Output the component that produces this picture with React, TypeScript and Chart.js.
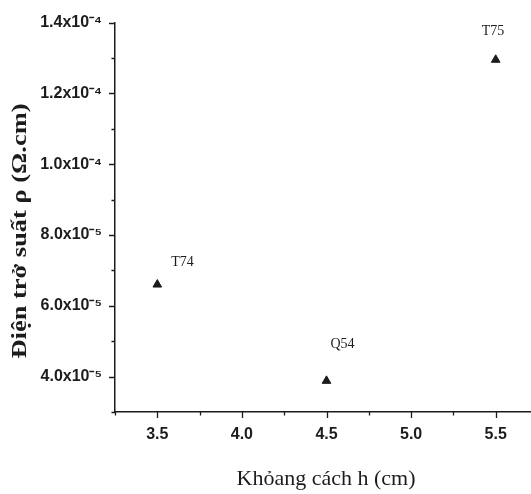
import React, { useEffect, useRef } from 'react';
import { Chart, registerables } from 'chart.js';

Chart.register(...registerables);

// ---- data ----
const samples = ['T74', 'Q54', 'T75'];
const distanceH = [3.5, 4.5, 5.5];
const resistivity = [6.6e-5, 3.88e-5, 1.295e-4];

const xTickValues = [3.5, 4.0, 4.5, 5.0, 5.5];
const xTickLabels = ['3.5', '4.0', '4.5', '5.0', '5.5'];
const yTickValues = [4e-5, 6e-5, 8e-5, 1.0e-4, 1.2e-4, 1.4e-4];
const yTickLabels = ['4.0x10⁻⁵', '6.0x10⁻⁵', '8.0x10⁻⁵', '1.0x10⁻⁴', '1.2x10⁻⁴', '1.4x10⁻⁴'];

const xTitle = 'Khỏang cách h (cm)';
const yTitle = 'Điện trở suất ρ (Ω.cm)';

const INK = '#1c1c1c';
const SERIF = '"Liberation Serif", "Times New Roman", serif';
const SANS = '"Liberation Sans", Arial, sans-serif';

function findLabel(v: number, vals: number[], labels: string[], eps: number) {
  for (let i = 0; i < vals.length; i++) {
    if (Math.abs(v - vals[i]) < eps) return labels[i];
  }
  return '';
}

const tickMarksPlugin = {
  id: 'tickMarks',
  afterDraw(chart: any) {
    const ctx = chart.ctx as CanvasRenderingContext2D;
    const xs = chart.scales.x;
    const ys = chart.scales.y;
    ctx.save();
    ctx.strokeStyle = INK;
    ctx.lineWidth = 1.3;
    ctx.beginPath();
    xs.ticks.forEach((t: any) => {
      const major = findLabel(t.value, xTickValues, xTickLabels, 1e-6) !== '';
      const px = Math.round(xs.getPixelForValue(t.value)) + 0.5;
      const len = major ? 6 : 3.5;
      ctx.moveTo(px, xs.top);
      ctx.lineTo(px, xs.top + len);
    });
    ys.ticks.forEach((t: any) => {
      const major = findLabel(t.value, yTickValues, yTickLabels, 1e-9) !== '';
      const py = Math.round(ys.getPixelForValue(t.value)) + 0.5;
      const len = major ? 6 : 3.5;
      ctx.moveTo(ys.right, py);
      ctx.lineTo(ys.right - len, py);
    });
    ctx.stroke();

    // axis titles
    ctx.fillStyle = INK;
    ctx.font = `22px ${SERIF}`;
    ctx.textAlign = 'center';
    ctx.textBaseline = 'alphabetic';
    ctx.fillText(xTitle, 326, 485);

    ctx.save();
    ctx.translate(21, 231);
    ctx.rotate(-Math.PI / 2);
    ctx.font = `bold 21px ${SERIF}`;
    ctx.textBaseline = 'middle';
    const w = ctx.measureText(yTitle).width;
    ctx.scale(255 / w, 1);
    ctx.fillText(yTitle, 0, 0);
    ctx.restore();

    // point labels
    const meta = chart.getDatasetMeta(0);
    const offsets = [
      [14, -22],
      [4, -37],
      [-14, -28],
    ];
    ctx.font = `14px ${SERIF}`;
    ctx.textAlign = 'left';
    ctx.textBaseline = 'middle';
    meta.data.forEach((el: any, i: number) => {
      ctx.fillText(samples[i], el.x + offsets[i][0], el.y + offsets[i][1]);
    });
    ctx.restore();
  },
};

export default function App() {
  const ref = useRef<HTMLCanvasElement>(null);

  useEffect(() => {
    document.body.style.margin = '0';
    document.body.style.background = '#ffffff';
    const canvas = ref.current!;
    const chart = new Chart(canvas, {
      type: 'scatter',
      data: {
        datasets: [
          {
            label: 'rho',
            data: distanceH.map((x, i) => ({ x, y: resistivity[i] })),
            pointStyle: 'triangle',
            pointRadius: 5,
            pointHoverRadius: 5,
            backgroundColor: INK,
            borderColor: INK,
            borderWidth: 1,
          },
        ],
      },
      options: {
        animation: false,
        responsive: true,
        maintainAspectRatio: false,
        devicePixelRatio: 1,
        layout: { padding: { top: 21, right: 0, left: 0, bottom: 0 } },
        plugins: {
          legend: { display: false },
          tooltip: { enabled: false },
        },
        scales: {
          x: {
            type: 'linear',
            min: 3.25,
            max: 5.75,
            grid: { display: false, drawTicks: false },
            border: { display: true, color: INK, width: 1.5 },
            ticks: {
              stepSize: 0.25,
              autoSkip: false,
              maxRotation: 0,
              padding: 13,
              color: INK,
              font: { family: SANS, size: 16, weight: 'bold' },
              callback: (v: any) => findLabel(Number(v), xTickValues, xTickLabels, 1e-6),
            },
            afterFit: (s: any) => {
              s.height = 82;
            },
          },
          y: {
            type: 'linear',
            min: 3e-5,
            max: 1.4e-4,
            grid: { display: false, drawTicks: false },
            border: { display: true, color: INK, width: 1.5 },
            ticks: {
              stepSize: 1e-5,
              autoSkip: false,
              padding: 13,
              color: INK,
              font: { family: SANS, size: 16, weight: 'bold' },
              callback: (v: any) => findLabel(Number(v), yTickValues, yTickLabels, 1e-9),
            },
            afterFit: (s: any) => {
              s.width = 115;
            },
          },
        },
      },
      plugins: [tickMarksPlugin],
    });
    return () => chart.destroy();
  }, []);

  return (
    <div
      style={{
        position: 'fixed',
        left: 0,
        top: 0,
        width: 531,
        height: 494,
        overflow: 'hidden',
        background: '#fff',
      }}
    >
      <div style={{ position: 'relative', width: 551, height: 494 }}>
        <canvas ref={ref} />
      </div>
    </div>
  );
}
